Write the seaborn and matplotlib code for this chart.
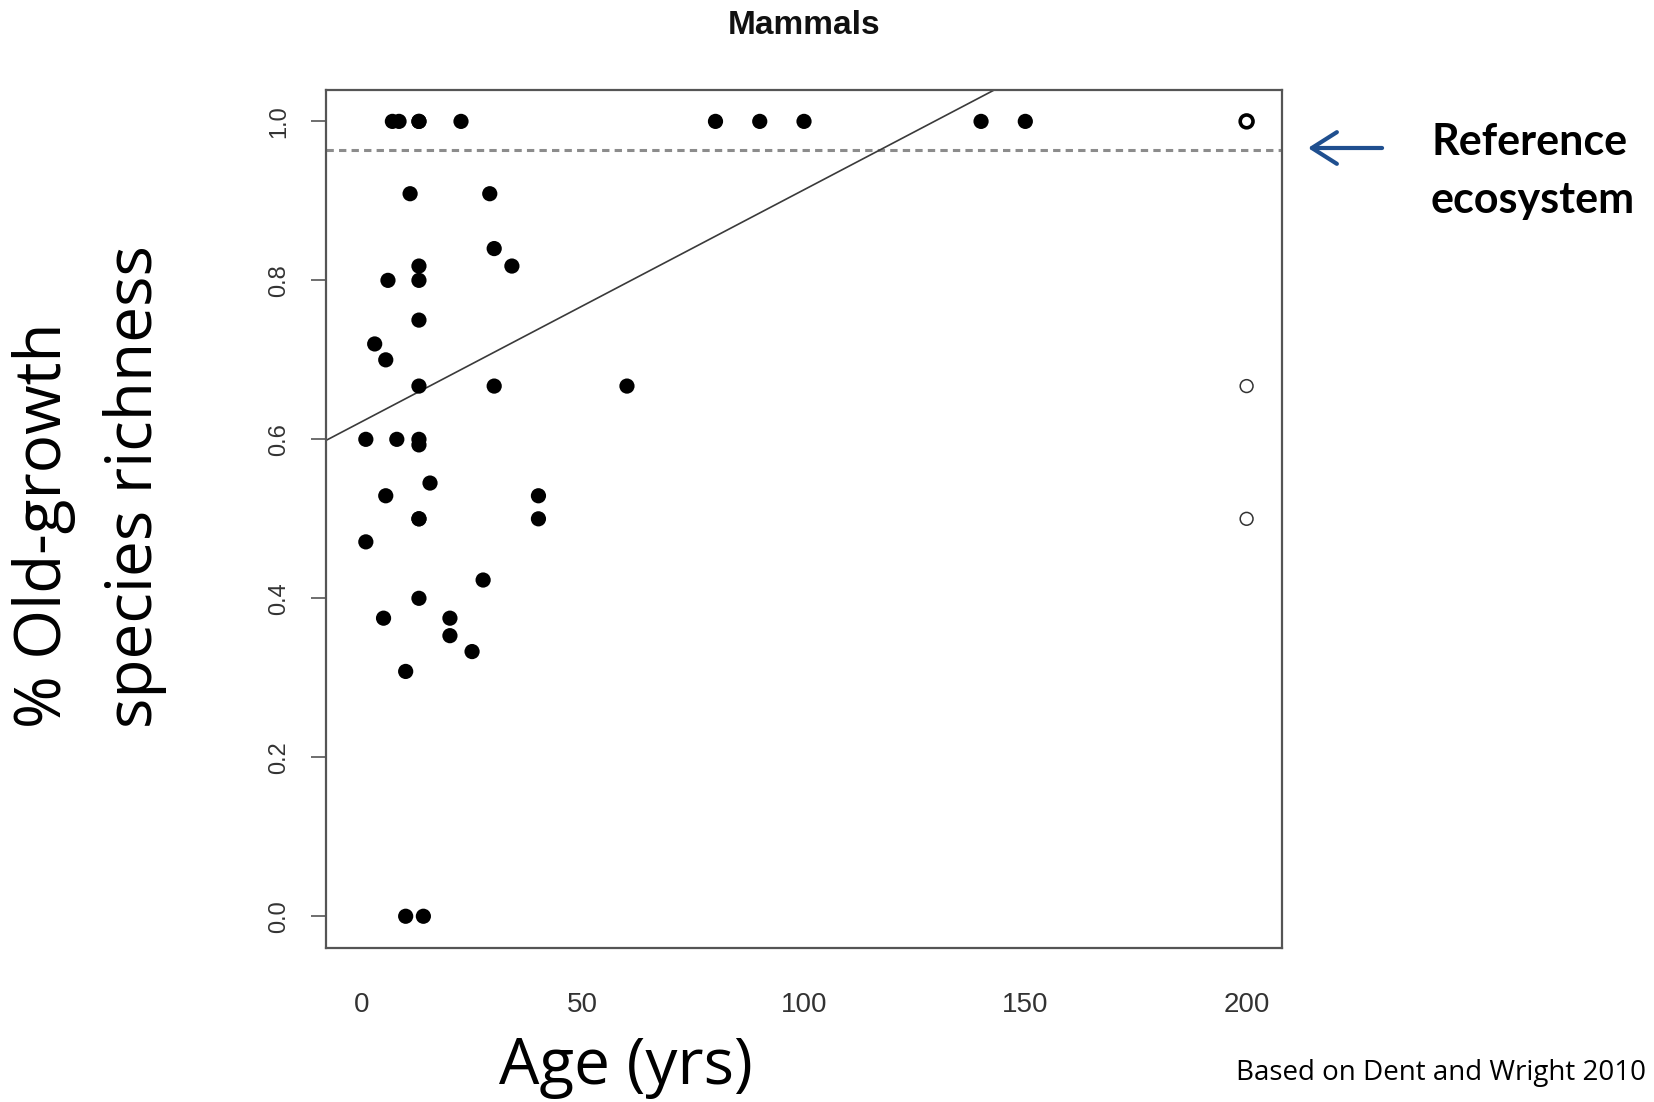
import matplotlib
matplotlib.use("Agg")
import matplotlib.pyplot as plt
import seaborn as sns
import pandas as pd

# Secondary forest sites: stand age (years) and share of old-growth mammal species
site_age = [7, 8.5, 13, 13, 22.5, 80, 90, 100, 140, 150,
            11, 29, 30, 13, 34, 6, 13, 13, 3, 5.5,
            13, 30, 60, 1, 8, 13, 13, 15.5, 5.5, 40,
            13, 13, 40, 1, 27.5, 13, 5, 20, 20, 25,
            10, 10, 14]
site_richness = [1.0, 1.0, 1.0, 1.0, 1.0, 1.0, 1.0, 1.0, 1.0, 1.0,
                 0.909, 0.909, 0.84, 0.818, 0.818, 0.8, 0.8, 0.75, 0.72, 0.70,
                 0.667, 0.667, 0.667, 0.6, 0.6, 0.6, 0.593, 0.545, 0.529, 0.529,
                 0.5, 0.5, 0.5, 0.471, 0.423, 0.4, 0.375, 0.375, 0.353, 0.333,
                 0.308, 0.0, 0.0]

# Old-growth reference sites, plotted at an age of 200 years
ref_age = [200, 200, 200]
ref_richness = [1.0, 0.667, 0.5]

# Fitted trend and mean of the reference sites
fit_intercept = 0.622
fit_slope = 0.00292
reference_level = 0.964

x_ticks = [0, 50, 100, 150, 200]
y_ticks = [0.0, 0.2, 0.4, 0.6, 0.8, 1.0]

sns.set_style("white")
plt.rcParams["font.family"] = ["Liberation Sans", "DejaVu Sans"]

sites = pd.DataFrame({"age": site_age, "richness": site_richness})
refs = pd.DataFrame({"age": ref_age, "richness": ref_richness})

fig = plt.figure(figsize=(16.54, 11.02), dpi=100)
ax = fig.add_axes([0.1971, 0.1397, 0.578, 0.779])

sns.scatterplot(data=sites, x="age", y="richness", ax=ax, color="black",
                s=120, edgecolor="none", zorder=3)
sns.scatterplot(data=refs.iloc[1:], x="age", y="richness", ax=ax,
                facecolor="none", edgecolor="#333333", s=85, linewidth=1.1, zorder=3)
sns.scatterplot(data=refs.iloc[:1], x="age", y="richness", ax=ax,
                facecolor="none", edgecolor="black", s=85, linewidth=2.6, zorder=3)

ax.axline((0, fit_intercept), slope=fit_slope, color="#3a3a3a", lw=1.2, zorder=2)
ax.axhline(reference_level, color="#8c8c8c", lw=2.2, dashes=(2.4, 1.7), zorder=1)

ax.set_xlim(-8, 208)
ax.set_ylim(-0.04, 1.04)
ax.set_xticks(x_ticks)
ax.set_xticklabels([str(v) for v in x_ticks])
ax.set_yticks(y_ticks)
ax.set_yticklabels([f"{v:.1f}" for v in y_ticks])
ax.set_xlabel("")
ax.set_ylabel("")

for side in ax.spines.values():
    side.set_color("#555555")
    side.set_linewidth(1.6)

ax.tick_params(axis="both", which="major", direction="out", length=11,
               width=1.2, color="#555555", labelcolor="#333333")
ax.tick_params(axis="x", labelsize=20, pad=21)
ax.tick_params(axis="y", labelsize=17, pad=15, labelrotation=90, left=True)
for lab in ax.get_yticklabels():
    lab.set_verticalalignment("center")

ax.set_title("Mammals", fontsize=24, fontweight="bold", pad=40, color="#111111")

label_font = ["Open Sans", "DejaVu Sans"]
fig.text(0.0266, 0.3394, "% Old-growth", rotation=90, ha="center", va="bottom",
         fontsize=46, family=label_font, color="black")
fig.text(0.0816, 0.3394, "species richness", rotation=90, ha="center", va="bottom",
         fontsize=46, family=label_font, color="black")
fig.text(0.3785, 0.0165, "Age (yrs)", ha="center", va="baseline",
         fontsize=46, family=label_font, color="black")

bold_font = ["Lato", "DejaVu Sans"]
fig.text(0.8652, 0.8711, "Reference", ha="left", va="center", fontsize=31,
         fontweight="bold", family=bold_font, color="black")
fig.text(0.8652, 0.8185, "ecosystem", ha="left", va="center", fontsize=31,
         fontweight="bold", family=bold_font, color="black")
fig.text(0.7473, 0.0200, "Based on Dent and Wright 2010", ha="left", va="baseline",
         fontsize=20, family=label_font, color="black")

ax.annotate("", xy=(0.7908, 0.8657), xytext=(0.8356, 0.8657),
            xycoords="figure fraction", textcoords="figure fraction",
            arrowprops=dict(arrowstyle="->, head_length=0.6, head_width=0.38",
                            color="#1f4f8f", lw=3, mutation_scale=30,
                            shrinkA=0, shrinkB=0))

fig.savefig("out.png", dpi=100, facecolor="white")
